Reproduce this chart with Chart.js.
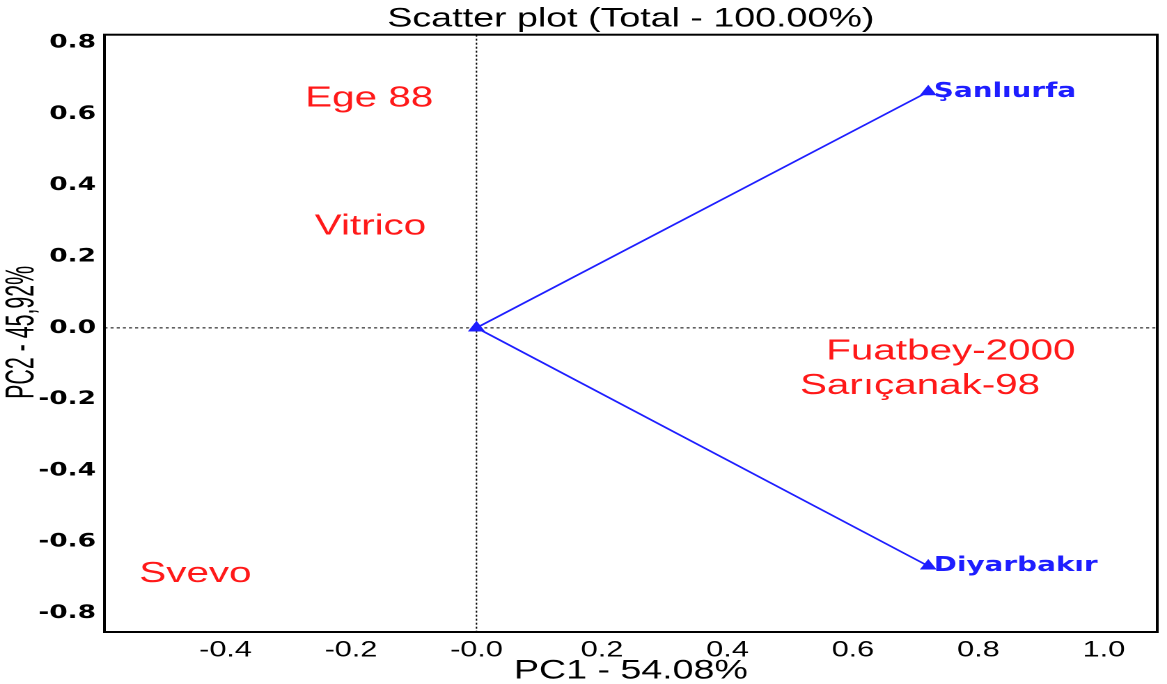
<!DOCTYPE html>
<html>
<head>
<meta charset="utf-8">
<script src="https://cdn.jsdelivr.net/npm/chart.js@4/dist/chart.umd.min.js"></script>
<style>
  html, body { margin: 0; padding: 0; background: #fff; overflow: hidden; }
  /* the original picture is stretched sideways, so draw narrow and stretch */
  #wrap { width: 838px; height: 684px; transform: scaleX(1.3926); transform-origin: 0 0; }
</style>
</head>
<body>
<div id="wrap"><canvas id="biplot" width="838" height="684"></canvas></div>
<script>
// Axis ticks
const xTicks = [-0.4, -0.2, 0, 0.2, 0.4, 0.6, 0.8, 1.0];
const xTickLabels = ["-0.4", "-0.2", "-0.0", "0.2", "0.4", "0.6", "0.8", "1.0"];
const yTicks = [-0.8, -0.6, -0.4, -0.2, 0, 0.2, 0.4, 0.6, 0.8];
const yTickLabels = ["-0.8", "-0.6", "-0.4", "-0.2", "0.0", "0.2", "0.4", "0.6", "0.8"];

// Genotypes (red labels)
const genotypes = ["Ege 88", "Vitrico", "Svevo", "Fuatbey-2000", "Sarıçanak-98"];
const genoPC1 = [-0.171, -0.169, -0.448, 0.756, 0.707];
const genoPC2 = [0.643, 0.284, -0.691, -0.067, -0.163];

// Environments (blue vectors)
const environments = ["Şanlıurfa", "Diyarbakır"];
const envPC1 = [0.72, 0.72];
const envPC2 = [0.662, -0.668];

const yAxisTitle = "PC2 - 45,92%";

const RED = "rgb(255,25,25)";
const BLUE = "rgb(30,30,255)";

// Border box, zero lines and text labels
const biplotPlugin = {
    id: "biplot",
    beforeDatasetsDraw(chart) {
        const ctx = chart.ctx;
        const { left, right, top, bottom } = chart.chartArea;
        const x0 = chart.scales.x.getPixelForValue(0);
        const y0 = chart.scales.y.getPixelForValue(0);
        ctx.save();
        ctx.strokeStyle = "#000";
        ctx.lineWidth = 1;
        ctx.setLineDash([2, 2]);
        ctx.beginPath();
        ctx.moveTo(x0, top);
        ctx.lineTo(x0, bottom);
        ctx.stroke();
        ctx.setLineDash([2.2, 2.2]);
        ctx.beginPath();
        ctx.moveTo(left, y0);
        ctx.lineTo(right, y0);
        ctx.stroke();
        ctx.restore();
    },
    afterDatasetsDraw(chart) {
        const ctx = chart.ctx;
        const { left, right, top, bottom } = chart.chartArea;
        ctx.save();
        // genotype names
        const geno = chart.getDatasetMeta(0);
        ctx.fillStyle = RED;
        ctx.font = "29px 'Liberation Sans', Arial, sans-serif";
        ctx.textAlign = "center";
        ctx.textBaseline = "middle";
        geno.data.forEach((pt, i) => ctx.fillText(genotypes[i], pt.x, pt.y));
        // environment names at vector tips
        ctx.fillStyle = BLUE;
        ctx.font = "bold 20px 'DejaVu Sans', sans-serif";
        ctx.textAlign = "left";
        environments.forEach((name, i) => {
            const tip = chart.getDatasetMeta(i + 1).data[1];
            ctx.fillText(name, tip.x + 4, tip.y);
        });
        // frame
        ctx.strokeStyle = "#000";
        ctx.lineWidth = 2;
        ctx.strokeRect(left, top, right - left, bottom - top);
        // y axis title, condensed like the original
        ctx.fillStyle = "#000";
        ctx.font = "26px 'Liberation Sans', Arial, sans-serif";
        ctx.textAlign = "center";
        const w = ctx.measureText(yAxisTitle).width;
        ctx.translate(16, (top + bottom) / 2 - 1);
        ctx.rotate(-Math.PI / 2);
        ctx.scale(133 / w, 1.1);
        ctx.fillText(yAxisTitle, 0, 0);
        ctx.restore();
    }
};

const datasets = [{
    label: "Genotypes",
    data: genotypes.map((g, i) => ({ x: genoPC1[i], y: genoPC2[i] })),
    pointRadius: 0,
    showLine: false
}];
environments.forEach((name, i) => {
    datasets.push({
        label: name,
        data: [{ x: 0, y: 0 }, { x: envPC1[i], y: envPC2[i] }],
        showLine: true,
        borderColor: BLUE,
        borderWidth: 1.6,
        pointStyle: "triangle",
        pointRadius: 6,
        pointBackgroundColor: BLUE,
        pointBorderColor: BLUE,
        pointBorderWidth: 1
    });
});

new Chart(document.getElementById("biplot"), {
    type: "scatter",
    data: { datasets: datasets },
    options: {
        responsive: false,
        maintainAspectRatio: false,
        animation: false,
        devicePixelRatio: 2,
        layout: { padding: { left: 0, right: 1, top: 0, bottom: 0 } },
        plugins: {
            legend: { display: false },
            tooltip: { enabled: false },
            title: {
                display: true,
                fullSize: false,
                text: "Scatter plot (Total - 100.00%)",
                color: "#000",
                font: { family: "'Liberation Sans', Arial, sans-serif", size: 27, weight: "normal", lineHeight: 1.1 },
                padding: { top: 4, bottom: 1 }
            }
        },
        scales: {
            x: {
                type: "linear",
                min: -0.593,
                max: 1.085,
                afterFit: (scale) => {
                    scale.height = 52;
                    scale.paddingLeft = 0;
                    scale.paddingRight = 0;
                },
                afterBuildTicks: (scale) => { scale.ticks = xTicks.map(v => ({ value: v })); },
                grid: { display: false, drawTicks: false },
                border: { display: false },
                ticks: {
                    padding: 5,
                    color: "#000",
                    maxRotation: 0,
                    autoSkip: false,
                    font: { family: "'Liberation Sans', Arial, sans-serif", size: 22 },
                    callback: (value) => xTickLabels[xTicks.findIndex(t => Math.abs(t - value) < 1e-6)]
                },
                title: {
                    display: true,
                    text: "PC1 - 54.08%",
                    color: "#000",
                    padding: { top: 0, bottom: 0 },
                    font: { family: "'Liberation Sans', Arial, sans-serif", size: 27, lineHeight: 0.95 }
                }
            },
            y: {
                type: "linear",
                min: -0.853,
                max: 0.822,
                afterFit: (scale) => { scale.width = 75; },
                afterBuildTicks: (scale) => { scale.ticks = yTicks.map(v => ({ value: v })); },
                grid: { display: false, drawTicks: false },
                border: { display: false },
                ticks: {
                    padding: 6,
                    color: "#000",
                    autoSkip: false,
                    font: { family: "'DejaVu Sans', sans-serif", size: 19, weight: "bold" },
                    callback: (value) => yTickLabels[yTicks.findIndex(t => Math.abs(t - value) < 1e-6)]
                },
                title: { display: false }
            }
        }
    },
    plugins: [biplotPlugin]
});
</script>
</body>
</html>
